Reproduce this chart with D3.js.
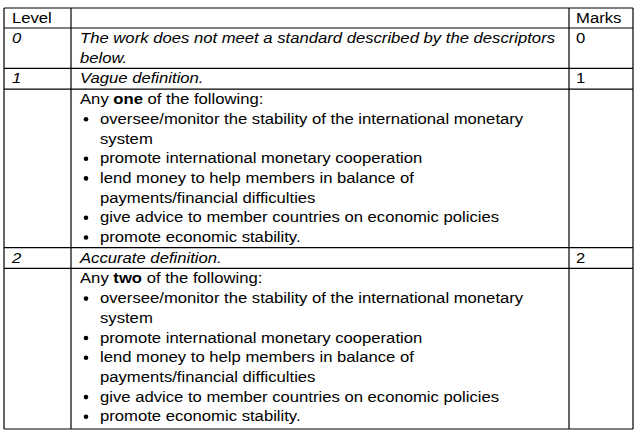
<!DOCTYPE html>
<html><head><meta charset="utf-8">
<script src="https://cdn.jsdelivr.net/npm/d3@7"></script>
<style>body{margin:0;background:#fff}text{font-family:"Liberation Sans",Arial,sans-serif;font-size:14.5px;fill:#000}</style>
</head><body><div id="table"></div>
<script>
var headers = ["Level", "", "Marks"]
var levels = ["0", "1", "", "2", ""]
var marks = ["0", "1", "", "2", ""]
var bullets = [
  ["oversee/monitor the stability of the international monetary", "system"],
  ["promote international monetary cooperation"],
  ["lend money to help members in balance of", "payments/financial difficulties"],
  ["give advice to member countries on economic policies"],
  ["promote economic stability."]
]
var rowLines = [2, 1, 8, 1, 8]   // text lines per body row

var width = 642, height = 439
var lh = 19.7
var sx = 1.15   // source text is drawn wider than the font
var colX = [4, 71, 569, 633]
var svg = d3.select("#table").append("svg").attr("width", width).attr("height", height)

var bounds = [8, 28]
rowLines.forEach(function (n) { bounds.push(bounds[bounds.length - 1] + n * lh + 1) })
bounds[bounds.length - 1] = 429

function line(x1, y1, x2, y2) {
  svg.append("line").attr("x1", x1).attr("y1", y1).attr("x2", x2).attr("y2", y2)
    .attr("stroke", "#000").attr("stroke-width", 1.2)
}
bounds.forEach(function (b) { line(colX[0], b, colX[3], b) })
colX.forEach(function (x) { line(x, bounds[0], x, bounds[bounds.length - 1]) })

function txt(x, yy, s, italic) {
  var t = svg.append("g").attr("transform", "translate(" + x + "," + yy + ") scale(" + sx + ",1)")
    .append("text")
  if (s != null) t.text(s)
  if (italic) t.style("font-style", "italic")
  return t
}
txt(12, 23, headers[0])
txt(576, 23, headers[2])

var descr = [["The work does not meet a standard described by the descriptors", "below."], ["Vague definition."], null, ["Accurate definition."], null]
var count = [null, null, "one", null, "two"]

levels.forEach(function (lv, i) {
  var top = bounds[i + 1], base = top + 15
  if (lv) txt(12, base, lv, true)
  if (marks[i]) txt(576, base, marks[i])
  if (descr[i]) descr[i].forEach(function (s, k) { txt(80, base + k * lh, s, true) })
  if (count[i]) {
    var t = txt(80, base, null)
    t.append("tspan").text("Any ")
    t.append("tspan").style("font-weight", "bold").text(count[i])
    t.append("tspan").text(" of the following:")
    var k = 1
    bullets.forEach(function (b) {
      svg.append("circle").attr("cx", 86).attr("cy", base + k * lh - 4.5).attr("r", 2.3).attr("fill", "#000")
      b.forEach(function (s) { txt(100, base + k * lh, s); k++ })
    })
  }
})
</script></body></html>
